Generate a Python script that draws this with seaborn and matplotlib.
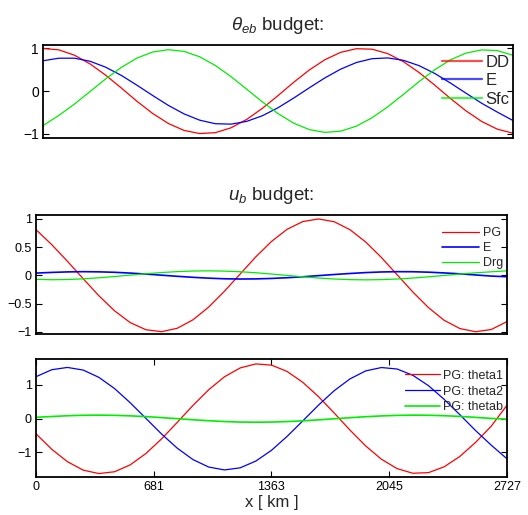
import numpy as np
import matplotlib
matplotlib.use("Agg")
import matplotlib.pyplot as plt
import seaborn as sns

sns.set_style("ticks")
plt.rcParams['font.family'] = ['Liberation Sans', 'DejaVu Sans']
plt.rcParams['mathtext.fontset'] = 'custom'
plt.rcParams['mathtext.rm'] = 'Liberation Sans'
plt.rcParams['mathtext.it'] = 'Liberation Sans:italic'

# distance along x [km]
x_km = [0, 91, 182, 273, 364, 455, 545, 636, 727, 818, 909, 1000, 1091, 1182, 1273,
        1364, 1454, 1545, 1636, 1727, 1818, 1909, 2000, 2091, 2182, 2273, 2363,
        2454, 2545, 2636, 2727]
x_ticks = [0, 681, 1363, 2045, 2727]

# theta_eb budget
theta_dd = [0.999, 0.967, 0.842, 0.637, 0.371, 0.070, -0.239, -0.524, -0.759, -0.922,
            -0.996, -0.975, -0.861, -0.664, -0.404, -0.105, 0.204, 0.494, 0.736, 0.908,
            0.993, 0.982, 0.878, 0.690, 0.435, 0.139, -0.170, -0.463, -0.712, -0.893, -0.988]
theta_e = [0.710, 0.770, 0.771, 0.699, 0.559, 0.366, 0.138, -0.103, -0.335, -0.534,
           -0.682, -0.765, -0.775, -0.710, -0.578, -0.390, -0.165, 0.076, 0.310, 0.514,
           0.669, 0.759, 0.777, 0.721, 0.596, 0.413, 0.191, -0.049, -0.285, -0.493, -0.690]
theta_sfc = [-0.810, -0.573, -0.306, -0.010, 0.287, 0.556, 0.773, 0.915, 0.970, 0.931,
             0.804, 0.600, 0.338, 0.044, -0.254, -0.528, -0.752, -0.903, -0.968, -0.940,
             -0.823, -0.626, -0.370, -0.078, 0.222, 0.500, 0.730, 0.890, 0.965, 0.948, 0.840]

# u_b budget
u_pg = [0.810, 0.545, 0.249, -0.059, -0.362, -0.629, -0.837, -0.964, -0.999, -0.938,
        -0.788, -0.562, -0.282, 0.024, 0.329, 0.602, 0.817, 0.954, 1.000, 0.950,
        0.809, 0.591, 0.316, 0.010, -0.296, -0.574, -0.797, -0.943, -1.000, -0.960, -0.820]
u_e = [0.040, 0.052, 0.061, 0.065, 0.062, 0.054, 0.040, 0.023, 0.003, -0.017,
       -0.035, -0.050, -0.061, -0.065, -0.063, -0.055, -0.042, -0.025, -0.005, 0.015,
       0.033, 0.049, 0.060, 0.065, 0.064, 0.056, 0.043, 0.027, 0.007, -0.013, -0.025]
u_drg = [-0.070, -0.078, -0.074, -0.062, -0.043, -0.021, 0.004, 0.028, 0.050, 0.066,
         0.077, 0.080, 0.075, 0.064, 0.046, 0.023, -0.001, -0.026, -0.047, -0.065,
         -0.076, -0.080, -0.076, -0.065, -0.048, -0.026, -0.002, 0.023, 0.045, 0.063, 0.080]

# PG decomposition
pg_theta1 = [-0.449, -0.907, -1.276, -1.526, -1.628, -1.574, -1.371, -1.035, -0.600, -0.108,
             0.394, 0.859, 1.242, 1.505, 1.624, 1.588, 1.400, 1.077, 0.652, 0.165,
             -0.339, -0.810, -1.203, -1.482, -1.619, -1.600, -1.428, -1.120, -0.704, -0.221, 0.400]
pg_theta2 = [1.245, 1.452, 1.520, 1.442, 1.226, 0.893, 0.475, 0.011, -0.455, -0.876,
             -1.214, -1.435, -1.520, -1.458, -1.257, -0.936, -0.525, -0.064, 0.404, 0.832,
             1.181, 1.417, 1.517, 1.473, 1.286, 0.977, 0.574, 0.117, -0.352, -0.787, -1.190]
pg_thetab = [0.040, 0.064, 0.087, 0.101, 0.105, 0.099, 0.084, 0.061, 0.032, 0.000,
             -0.032, -0.061, -0.085, -0.100, -0.105, -0.100, -0.086, -0.064, -0.035, -0.003,
             0.029, 0.058, 0.082, 0.098, 0.105, 0.101, 0.088, 0.067, 0.039, 0.007, -0.015]

W, H = 528, 515
fig = plt.figure(figsize=(W / 100, H / 100), dpi=100)


def px_axes(x0, y0, x1, y1):
    return fig.add_axes([x0 / W, 1 - y1 / H, (x1 - x0) / W, (y1 - y0) / H])


def style(ax, tick_fs):
    ax.tick_params(direction='in', top=True, right=True, length=4, width=0.8,
                   labelsize=tick_fs, colors='black', pad=3)
    for s in ax.spines.values():
        s.set_linewidth(1.3)
        s.set_color('black')
    ax.set_xlim(0, 2727)
    ax.set_xlabel('')
    ax.set_ylabel('')


lw = 0.9

# top panel
ax1 = px_axes(43, 45, 513, 138)
sns.lineplot(x=x_km, y=theta_dd, color='red', lw=lw, label='DD', ax=ax1)
sns.lineplot(x=x_km, y=theta_e, color='blue', lw=lw, label='E', ax=ax1)
sns.lineplot(x=x_km, y=theta_sfc, color='#00ee00', lw=lw, label='Sfc', ax=ax1)
style(ax1, 10)
ax1.set_ylim(-1.1, 1.08)
ax1.set_yticks([-1, 0, 1])
ax1.set_xticks([])
ax1.set_title(r'$\theta_{eb}$ budget:', fontsize=13.5, pad=11)
leg = ax1.legend(loc='upper right', bbox_to_anchor=(1.0, 0.93), frameon=False, fontsize=12,
                 handlelength=2.4, handletextpad=0.2, labelspacing=0.2, borderaxespad=0.1,
                 borderpad=0.1)
for h in leg.get_lines():
    h.set_linewidth(1.6)
    h.set_alpha(0.7)

# middle panel
ax2 = px_axes(36, 215, 507, 334)
sns.lineplot(x=x_km, y=u_pg, color='red', lw=lw, label='PG', ax=ax2)
sns.lineplot(x=x_km, y=u_e, color='blue', lw=1.2, label='E', ax=ax2)
sns.lineplot(x=x_km, y=u_drg, color='#00ee00', lw=lw, label='Drg', ax=ax2)
style(ax2, 9)
ax2.set_ylim(-1.04, 1.07)
ax2.set_yticks([-1, -0.5, 0, 0.5, 1])
ax2.set_yticklabels(['\u22121', '\u22120.5', '0', '0.5', '1'])
ax2.set_xticks([])
ax2.set_title(r'$u_b$ budget:', fontsize=13.5, pad=11)
ax2.legend(loc='upper right', bbox_to_anchor=(1.0, 0.93), frameon=False, fontsize=9,
           handlelength=3.0, handletextpad=0.3, labelspacing=0.25, borderaxespad=0.1,
           borderpad=0.2)

# bottom panel
ax3 = px_axes(36, 359, 507, 477)
sns.lineplot(x=x_km, y=pg_theta1, color='red', lw=lw, label='PG: theta1', ax=ax3)
sns.lineplot(x=x_km, y=pg_theta2, color='blue', lw=lw, label='PG: theta2', ax=ax3)
sns.lineplot(x=x_km, y=pg_thetab, color='#00ee00', lw=1.2, label='PG: thetab', ax=ax3)
style(ax3, 9)
ax3.set_ylim(-1.73, 1.77)
ax3.set_yticks([-1, 0, 1])
ax3.set_xticks(x_ticks)
ax3.set_xticklabels([str(t) for t in x_ticks])
ax3.set_xlabel('x [ km ]', fontsize=12, labelpad=1)
ax3.legend(loc='upper right', bbox_to_anchor=(1.0, 0.94), frameon=False, fontsize=9,
           handlelength=2.8, handletextpad=0.3, labelspacing=0.3, borderaxespad=0.1,
           borderpad=0.2)

fig.savefig('out.png', dpi=100)
